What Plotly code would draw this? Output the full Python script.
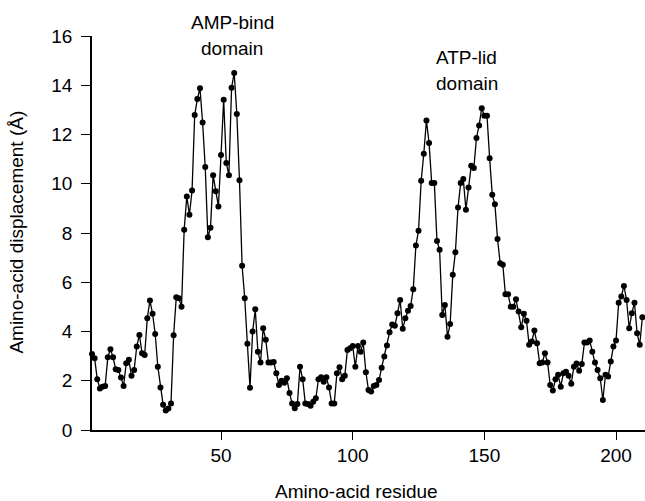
import plotly.graph_objects as go

residues = list(range(1, 211))
displacement = [
    3.09, 2.91, 2.06, 1.69, 1.76, 1.79, 2.95, 3.28, 2.95, 2.47,
    2.44, 2.13, 1.79, 2.71, 2.85, 2.20, 2.44, 3.39, 3.86, 3.12,
    3.05, 4.54, 5.26, 4.72, 3.90, 2.57, 1.73, 1.03, 0.79, 0.87,
    1.08, 3.85, 5.39, 5.35, 5.01, 8.13, 9.48, 8.74, 9.73, 12.79,
    13.44, 13.88, 12.49, 10.68, 7.83, 8.21, 10.35, 9.70, 9.08, 11.17,
    13.41, 10.84, 10.35, 13.90, 14.50, 12.83, 10.14, 6.67, 5.35, 3.50,
    1.72, 4.00, 4.90, 3.18, 2.74, 4.13, 3.66, 2.74, 2.74, 2.76,
    2.30, 1.83, 2.00, 1.92, 2.10, 1.50, 1.08, 0.88, 1.06, 2.57,
    2.06, 1.08, 1.06, 0.98, 1.15, 1.29, 2.06, 2.14, 1.96, 2.14,
    1.73, 1.08, 1.08, 2.30, 2.55, 2.06, 2.20, 3.25, 3.32, 3.41,
    2.57, 3.41, 3.18, 3.55, 2.35, 1.62, 1.56, 1.79, 1.83, 2.03,
    2.53, 2.98, 3.43, 3.97, 4.28, 4.23, 4.74, 5.28, 4.11, 4.54,
    4.84, 5.04, 5.72, 7.49, 8.09, 10.12, 11.22, 12.57, 11.65, 10.03,
    10.03, 7.68, 7.32, 4.67, 5.08, 3.79, 4.30, 6.30, 7.22, 9.04,
    10.03, 10.19, 8.94, 9.85, 10.73, 10.64, 11.86, 12.37, 13.07, 12.76,
    12.76, 11.04, 9.55, 9.17, 7.76, 6.77, 6.71, 5.51, 5.51, 5.01,
    5.01, 5.31, 4.81, 4.17, 4.72, 4.44, 3.46, 3.59, 4.04, 3.52,
    2.71, 2.74, 3.12, 2.74, 1.83, 1.60, 2.06, 2.24, 1.76, 2.30,
    2.37, 2.20, 1.88, 2.57, 2.70, 2.41, 2.68, 3.55, 3.55, 3.63,
    3.18, 2.74, 2.44, 2.10, 1.22, 2.24, 2.17, 2.78, 3.39, 3.63,
    5.17, 5.42, 5.85, 5.28, 4.13, 4.74, 5.17, 3.93, 3.46, 4.58,
]

x_ticks = [50, 100, 150, 200]
y_ticks = [0, 2, 4, 6, 8, 10, 12, 14, 16]

FONT = "Liberation Sans, Arial, Helvetica, sans-serif"

fig = go.Figure()
fig.add_trace(go.Scatter(
    x=residues, y=displacement, mode="lines+markers",
    line=dict(color="black", width=1.3),
    marker=dict(color="black", size=6),
    cliponaxis=False, showlegend=False, hoverinfo="skip",
))

fig.update_layout(
    width=645, height=501,
    margin=dict(l=92, r=0, t=36, b=71, autoexpand=False),
    plot_bgcolor="white", paper_bgcolor="white",
    font=dict(family=FONT, size=18, color="black"),
    xaxis=dict(
        range=[1, 211], tickvals=x_ticks, ticks="outside", ticklen=8,
        tickwidth=1, tickcolor="black", showline=True, linecolor="black",
        linewidth=1.5, showgrid=False, zeroline=False, automargin=False,
        tickfont=dict(size=19),
    ),
    yaxis=dict(
        range=[0, 16], tickvals=y_ticks, ticks="outside", ticklen=9,
        tickwidth=1, tickcolor="black", showline=True, linecolor="black",
        linewidth=1.8, showgrid=False, zeroline=False, automargin=False,
        tickfont=dict(size=19), ticklabelstandoff=5,
    ),
    annotations=[
        dict(text="Amino-acid residue", x=0.479, y=-0.157, xref="paper", yref="paper",
             showarrow=False, font=dict(size=19), yanchor="middle", xanchor="center"),
        dict(text="Amino-acid displacement (Å)", x=-0.1356, y=0.501, xref="paper", yref="paper",
             showarrow=False, font=dict(size=19), textangle=-90,
             yanchor="middle", xanchor="center"),
        dict(text="AMP-bind", x=54.2, y=1.034, xref="x", yref="paper",
             showarrow=False, font=dict(size=19), yanchor="middle"),
        dict(text="domain", x=54.2, y=0.969, xref="x", yref="paper",
             showarrow=False, font=dict(size=19), yanchor="middle"),
        dict(text="ATP-lid", x=143.4, y=0.946, xref="x", yref="paper",
             showarrow=False, font=dict(size=19), yanchor="middle"),
        dict(text="domain", x=143.4, y=0.880, xref="x", yref="paper",
             showarrow=False, font=dict(size=19), yanchor="middle"),
    ],
)

fig.write_html(
    "out.html",
    config={"displayModeBar": False, "staticPlot": True},
    post_script="document.body.style.margin='0';document.body.style.overflow='hidden';",
)
